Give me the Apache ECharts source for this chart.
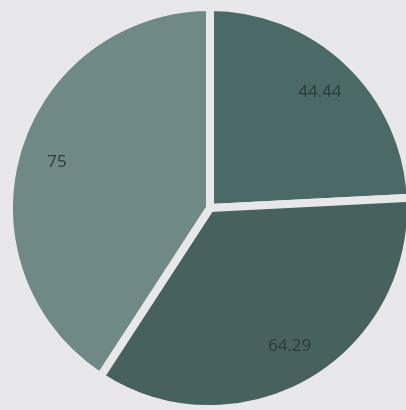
<!DOCTYPE html>
<html><head><meta charset="utf-8">
<script src="https://cdn.jsdelivr.net/npm/echarts@6/dist/echarts.min.js"></script>
<style>html,body{margin:0;padding:0;background:#e8e8ea;}#c{width:406px;height:410px;}</style>
</head><body><div id="c"></div>
<script>
const categories = ['A', 'B', 'C'];
const values = [44.44, 64.29, 75];
const labels = ['44.44', '64.29', '75'];
const colors = ['#4b6966', '#46615e', '#6f8987'];

const chart = echarts.init(document.getElementById('c'), null, {renderer: 'canvas'});
const pieData = categories.map((c, i) => ({name: c, value: values[i], itemStyle: {color: colors[i]}}));
const labelData = categories.map((c, i) => ({name: c, value: values[i], label: {formatter: labels[i]}}));
chart.setOption({
  backgroundColor: '#e8e8ea',
  animation: false,
  series: [
    {
      type: 'pie', center: [210, 208], radius: [0, 201], startAngle: 90, clockwise: true,
      itemStyle: {borderColor: '#e8e8ea', borderWidth: 8},
      label: {show: false}, labelLine: {show: false}, silent: true,
      data: pieData
    },
    {
      type: 'pie', center: [210, 208], radius: [112, 201], startAngle: 90, clockwise: true,
      itemStyle: {color: 'transparent'},
      label: {show: true, position: 'inside', color: '#2b3b3b', fontSize: 17, fontFamily: 'Open Sans'},
      labelLine: {show: false}, silent: true,
      data: labelData
    }
  ]
});
</script></body></html>
